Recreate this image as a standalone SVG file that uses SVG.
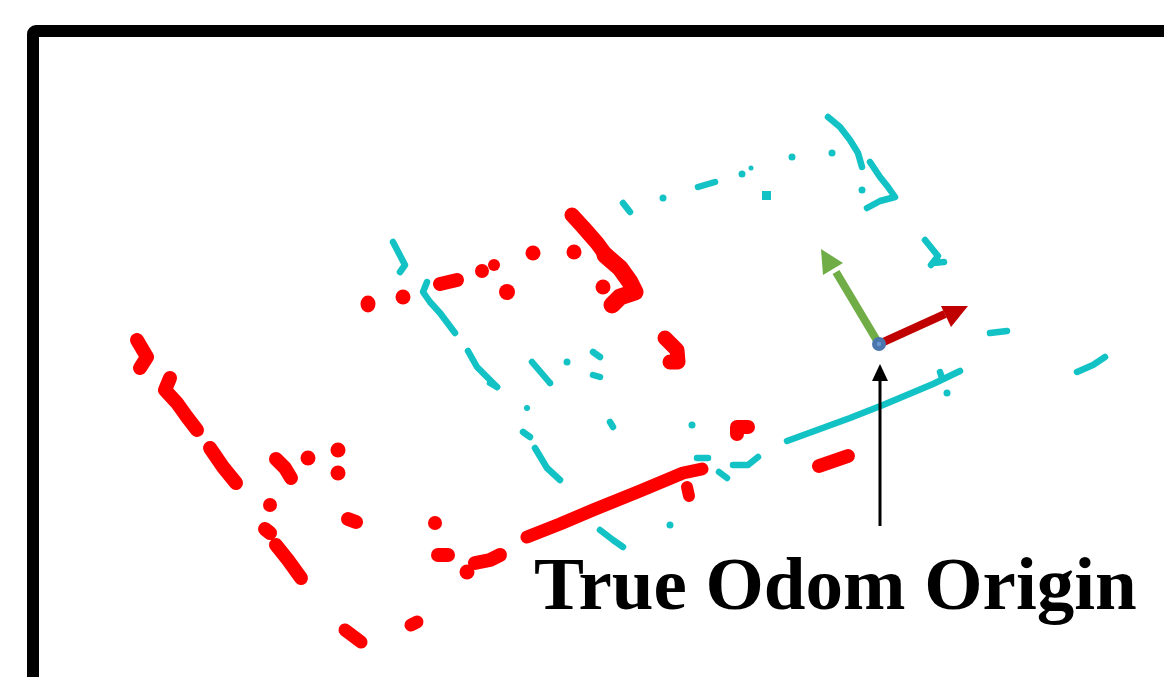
<svg xmlns="http://www.w3.org/2000/svg" width="1164" height="677" viewBox="0 0 1164 677">
<style>
.r{fill:none;stroke:#ff0000;stroke-linecap:round;stroke-linejoin:round;stroke-width:14}
.rd{fill:#ff0000}
.c{fill:none;stroke:#12c2c4;stroke-linecap:round;stroke-linejoin:round;stroke-width:6.5}
.cd{fill:#12c2c4}
.lbl{font-family:"Liberation Serif","Times New Roman",serif;font-weight:bold;font-size:75px;fill:#000}
</style>
<rect x="0" y="0" width="1164" height="677" fill="#fff"/>
<rect id="frame" x="33" y="31" width="1200" height="700" rx="3" fill="none" stroke="#000" stroke-width="12"/>

<g id="cyan-cloud">
<path class="c" d="M393,242 L405,265 L400,272"/>
<path class="c" d="M427,282 L423,292 L430,302 L440,313 L455,333"/>
<path class="c" d="M468,351 L477,367 L497,387"/>
<path class="c" d="M532,362 L550,383"/>
<circle class="cd" cx="567" cy="362" r="3.5"/>
<path class="c" d="M593,352 L600,357"/>
<path class="c" d="M593,375 L600,377"/>
<path class="c" d="M623,203 L630,212"/>
<circle class="cd" cx="663" cy="198" r="3.5"/>
<path class="c" d="M698,187 L715,182"/>
<circle class="cd" cx="742" cy="174" r="3.5"/>
<circle class="cd" cx="751" cy="168" r="2.5"/>
<circle class="cd" cx="792" cy="157" r="3.5"/>
<rect class="cd" x="762" y="191" width="9" height="9"/>
<path class="c" d="M828,117 L840,127 L850,140 L858,153 L862,167"/>
<circle class="cd" cx="832" cy="153" r="3.5"/>
<path class="c" d="M870,162 L880,177 L888,187 L895,197 L880,201 L867,208"/>
<circle class="cd" cx="862" cy="190" r="3.5"/>
<path class="c" d="M925,240 L938,256 L931,265 M933,263 L944,262"/>
<path class="c" d="M990,333 L1007,331"/>
<path class="c" d="M1077,372 L1093,365 L1105,357"/>
<path class="c" d="M787,441 L850,418 L883,405 L933,384 L960,371"/>
<path class="c" d="M940,372 L942,378"/>
<circle class="cd" cx="947" cy="393" r="3.5"/>
<circle class="cd" cx="527" cy="408" r="3"/>
<path class="c" d="M523,432 L530,437"/>
<path class="c" d="M535,448 L547,468 L560,480"/>
<path class="c" d="M610,422 L613,427"/>
<circle class="cd" cx="692" cy="425" r="3.5"/>
<path class="c" d="M697,458 L708,458"/>
<path class="c" d="M719,472 L727,478"/>
<path class="c" d="M733,465 L748,465 L758,457"/>
<circle class="cd" cx="670" cy="525" r="3.5"/>
<path class="c" d="M600,530 L613,540 L623,547"/>
<path class="c" d="M490,383 L497,387"/>
<circle class="cd" cx="550" cy="383" r="3"/>
</g>

<g id="red-cloud">
<ellipse class="rd" cx="368" cy="304" rx="7.5" ry="8.5"/>
<circle class="rd" cx="403" cy="297" r="7.5"/>
<path class="r" d="M440,284 L457,280"/>
<circle class="rd" cx="482" cy="271" r="7"/>
<circle class="rd" cx="494" cy="265" r="6"/>
<circle class="rd" cx="507" cy="292" r="8"/>
<circle class="rd" cx="533" cy="253" r="7.5"/>
<circle class="rd" cx="574" cy="252" r="7.5"/>
<path class="r" d="M572,215 L583,227 L597,243 L608,258" style="stroke-width:15"/>
<path class="r" d="M605,255 L620,268 L630,282 L635,292 L620,297 L612,305" style="stroke-width:17"/>
<circle class="rd" cx="603" cy="287" r="7.5"/>
<path class="r" d="M665,338 L677,350 L678,362 L670,362" style="stroke-width:15"/>
<path class="r" d="M137,340 L147,357 L140,368"/>
<path class="r" d="M170,378 L165,390 L177,403 L187,417 L197,430"/>
<path class="r" d="M210,448 L223,467 L236,483"/>
<path class="r" d="M276,459 L285,468 L291,478"/>
<circle class="rd" cx="308" cy="458" r="7.5"/>
<circle class="rd" cx="338" cy="450" r="7.5"/>
<circle class="rd" cx="338" cy="473" r="7.5"/>
<circle class="rd" cx="270" cy="505" r="7"/>
<path class="r" d="M265,529 L270,533 M276,545 L288,560 L301,578"/>
<path class="r" d="M348,519 L356,522"/>
<circle class="rd" cx="435" cy="523" r="7"/>
<path class="r" d="M438,555 L448,555"/>
<circle class="rd" cx="467" cy="572" r="7.5"/>
<path class="r" d="M475,563 L490,560 L500,555"/>
<path class="r" d="M527,537 L560,524 L593,510 L640,491 L683,473 L702,469" style="stroke-width:13"/>
<path class="r" d="M687,487 L689,496" style="stroke-width:12"/>
<path class="r" d="M737,427 L737,434 M737,427 L748,427"/>
<path class="r" d="M819,466 L848,456"/>
<path class="r" d="M345,630 L361,642" style="stroke-width:13"/>
<path class="r" d="M411,625 L417,622" style="stroke-width:13"/>
</g>

<g id="odom-axes">
<line x1="879" y1="344" x2="836" y2="272" stroke="#70ad47" stroke-width="8"/>
<polygon points="821,249 843,263 823,275" fill="#70ad47"/>
<line x1="879" y1="344" x2="945" y2="314" stroke="#c00000" stroke-width="8"/>
<polygon points="968,306 941,306 951,327" fill="#c00000"/>
<circle cx="879" cy="344" r="7" fill="#4a76ad"/>
<circle cx="879" cy="344" r="2.2" fill="#6a98d0"/>
</g>

<g id="connectors">
<line x1="880" y1="526" x2="880" y2="378" stroke="#000" stroke-width="3"/>
<polygon points="880,364 888,381 872,381" fill="#000"/>
</g>

<g id="label">
<text class="lbl" x="534" y="609">True Odom Origin</text>
</g>
</svg>
